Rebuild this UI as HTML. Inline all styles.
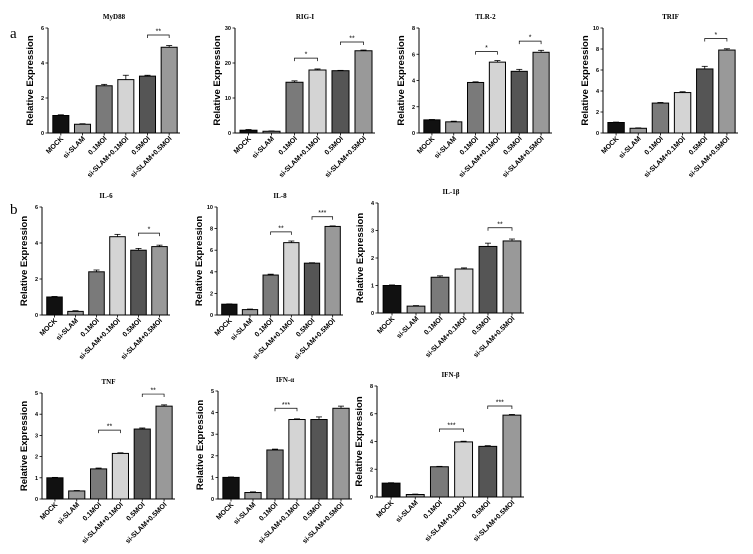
<!DOCTYPE html>
<html><head><meta charset="utf-8">
<style>
body{margin:0;background:#fff;}
svg{display:block;font-family:"Liberation Sans",sans-serif;}
</style></head>
<body>
<svg id="fig" width="753" height="554" viewBox="0 0 753 554">
<text x="10" y="38" font-family="Liberation Serif" font-size="15">a</text>
<text x="10" y="214" font-family="Liberation Serif" font-size="15">b</text>
</svg>
<script>
const categories = ["MOCK","si-SLAM","0.1MOI","si-SLAM+0.1MOI","0.5MOI","si-SLAM+0.5MOI"];
const barColors = ["#111","#9a9a9a","#7a7a7a","#d4d4d4","#555","#999"];
const myd88 = [1.0,0.5,2.7,3.05,3.25,4.9];
const myd88Err = [0.04,0.03,0.08,0.25,0.05,0.1];
const rigi = [0.8,0.5,14.5,18.0,17.8,23.5];
const rigiErr = [0.2,0.1,0.4,0.3,0.1,0.2];
const tlr2 = [1.0,0.85,3.85,5.4,4.7,6.15];
const tlr2Err = [0.03,0.05,0.05,0.12,0.15,0.15];
const trif = [1.0,0.45,2.85,3.85,6.1,7.9];
const trifErr = [0.04,0.04,0.06,0.08,0.25,0.12];
const il6 = [1.0,0.2,2.4,4.35,3.6,3.8];
const il6Err = [0.03,0.04,0.1,0.13,0.1,0.08];
const il8 = [1.0,0.5,3.7,6.7,4.8,8.2];
const il8Err = [0.03,0.05,0.08,0.15,0.04,0.05];
const il1b = [1.0,0.25,1.3,1.6,2.42,2.62];
const il1bErr = [0.02,0.02,0.05,0.04,0.12,0.07];
const tnf = [1.0,0.38,1.42,2.15,3.3,4.38];
const tnfErr = [0.02,0.02,0.04,0.03,0.05,0.06];
const ifna = [1.0,0.3,2.27,3.68,3.68,4.2];
const ifnaErr = [0.02,0.03,0.04,0.03,0.12,0.1];
const ifnb = [1.0,0.18,2.18,3.97,3.65,5.9];
const ifnbErr = [0.03,0.03,0.03,0.05,0.05,0.05];
const myd88Ticks = [0,2,4,6];
const rigiTicks = [0,10,20,30];
const tlr2Ticks = [0,2,4,6,8];
const trifTicks = [0,2,4,6,8,10];
const il6Ticks = [0,2,4,6];
const il8Ticks = [0,2,4,6,8,10];
const il1bTicks = [0,1,2,3,4];
const tnfTicks = [0,1,2,3,4,5];
const ifnaTicks = [0,1,2,3,4,5];
const ifnbTicks = [0,2,4,6,8];
// significance: [fromIndex, toIndex, value-level, stars]
const myd88Sig = [[4,5,5.6,"**"]];
const rigiSig = [[2,3,21.4,"*"],[4,5,26,"**"]];
const tlr2Sig = [[2,3,6.2,"*"],[4,5,7.0,"*"]];
const trifSig = [[4,5,9.0,"*"]];
const il6Sig = [[4,5,4.55,"*"]];
const il8Sig = [[2,3,7.7,"**"],[4,5,9.1,"***"]];
const il1bSig = [[4,5,3.1,"**"]];
const tnfSig = [[2,3,3.25,"**"],[4,5,4.95,"**"]];
const ifnaSig = [[2,3,4.2,"***"]];
const ifnbSig = [[2,3,4.9,"***"],[4,5,6.56,"***"]];

const panels = [
 {id:"myd88",title:"MyD88",v:myd88,e:myd88Err,t:myd88Ticks,s:myd88Sig,x0:48,x1:180,yT:28,yB:133},
 {id:"rig-i",title:"RIG-I",v:rigi,e:rigiErr,t:rigiTicks,s:rigiSig,x0:235,x1:375,yT:28,yB:133},
 {id:"tlr-2",title:"TLR-2",v:tlr2,e:tlr2Err,t:tlr2Ticks,s:tlr2Sig,x0:419,x1:552,yT:28,yB:133},
 {id:"trif",title:"TRIF",v:trif,e:trifErr,t:trifTicks,s:trifSig,x0:603,x1:738,yT:28,yB:133},
 {id:"il-6",title:"IL-6",v:il6,e:il6Err,t:il6Ticks,s:il6Sig,x0:42,x1:170,yT:207,yB:315},
 {id:"il-8",title:"IL-8",v:il8,e:il8Err,t:il8Ticks,s:il8Sig,x0:217,x1:343,yT:207,yB:315},
 {id:"il-1b",title:"IL-1β",v:il1b,e:il1bErr,t:il1bTicks,s:il1bSig,x0:378,x1:524,yT:203,yB:313},
 {id:"tnf",title:"TNF",v:tnf,e:tnfErr,t:tnfTicks,s:tnfSig,x0:42,x1:175,yT:393,yB:499},
 {id:"ifn-a",title:"IFN-α",v:ifna,e:ifnaErr,t:ifnaTicks,s:ifnaSig,x0:218,x1:352,yT:391,yB:499},
 {id:"ifn-b",title:"IFN-β",v:ifnb,e:ifnbErr,t:ifnbTicks,s:ifnbSig,x0:377,x1:524,yT:386,yB:497}
];
const NS="http://www.w3.org/2000/svg";
const svg=document.getElementById("fig");
function mk(tag,attrs,parent){const el=document.createElementNS(NS,tag);for(const k in attrs)el.setAttribute(k,attrs[k]);parent.appendChild(el);return el;}
panels.forEach(p=>{
  const g=mk("g",{},svg);
  
  
  const max=p.t[p.t.length-1];
  const y=v=>p.yB-(v/max)*(p.yB-p.yT);
  const slot=(p.x1-p.x0-2)/categories.length;
  const bw=slot*0.74;
  const cx=i=>p.x0+2+slot*(i+0.5);
  const title=mk("text",{x:(p.x0+p.x1)/2,y:p.yT-9,"text-anchor":"middle","font-family":"Liberation Serif","font-size":"7","font-weight":"bold"},g);
  title.textContent=p.title;
  
  
  const yl=mk("text",{x:0,y:0,transform:`translate(${p.x0-15},${(p.yT+p.yB)/2}) rotate(-90)`,"text-anchor":"middle","font-size":"9.5","font-weight":"bold"},g);
  yl.textContent="Relative Expression";
  
  
  const ax=mk("path",{d:`M${p.x0},${p.yT}V${p.yB}H${p.x1}`,stroke:"#000","stroke-width":"1",fill:"none"},g);
  
  
  p.t.forEach(t=>{
    mk("line",{x1:p.x0-2.5,x2:p.x0,y1:y(t),y2:y(t),stroke:"#000","stroke-width":"0.8"},g);
    const tl=mk("text",{x:p.x0-4,y:y(t)+2,"text-anchor":"end","font-size":"5.5","font-weight":"bold"},g);
    tl.textContent=t;
    
    
  });
  p.v.forEach((v,i)=>{
    const top=y(v), et=y(v+p.e[i]);
    mk("line",{x1:cx(i),x2:cx(i),y1:top,y2:et,stroke:"#000","stroke-width":"0.8"},g);
    mk("line",{x1:cx(i)-3,x2:cx(i)+3,y1:et,y2:et,stroke:"#000","stroke-width":"0.8"},g);
    const r=mk("rect",{x:cx(i)-bw/2,y:top,width:bw,height:p.yB-top,fill:barColors[i],stroke:"#000","stroke-width":"1"},g);
    
    
    mk("line",{x1:cx(i),x2:cx(i),y1:p.yB,y2:p.yB+2.5,stroke:"#000","stroke-width":"0.8"},g);
    const xl=mk("text",{x:0,y:0,transform:`translate(${cx(i)+3},${p.yB+6}) rotate(-45)`,"text-anchor":"end","font-size":"7","font-weight":"bold"},g);
    xl.textContent=categories[i];
    
    
  });
  p.s.forEach(s=>{
    const yy=y(s[2]);
    const b=mk("path",{d:`M${cx(s[0])},${yy+3}V${yy}H${cx(s[1])}V${yy+3}`,stroke:"#000","stroke-width":"0.7",fill:"none"},g);
    
    
    const st=mk("text",{x:(cx(s[0])+cx(s[1]))/2,y:yy-1.5,"text-anchor":"middle","font-size":"7"},g);
    st.textContent=s[3];
    
    
  });
});
</script>
</body></html>
